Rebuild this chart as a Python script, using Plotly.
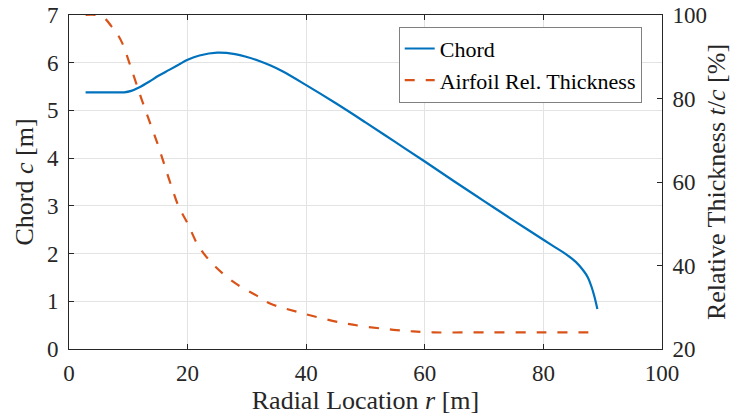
import plotly.graph_objects as go

# Chord distribution
r_chord = [2.8, 5.0, 7.0, 9.3, 10.5, 11.8, 13.5, 15.0, 16.9, 18.5, 20.0, 22.0, 25.0, 28.0, 30.0,
           32.2, 34.0, 36.0, 40.0, 45.0, 50.0, 55.0, 60.0, 65.0, 70.0, 75.0, 80.0, 82.0,
           83.9, 85.5, 86.7, 87.5, 88.1, 88.6, 89.1]
chord = [5.38, 5.38, 5.38, 5.38, 5.41, 5.48, 5.60, 5.72, 5.85, 5.96, 6.06, 6.15, 6.21, 6.18, 6.12,
         6.03, 5.94, 5.82, 5.53, 5.15, 4.75, 4.34, 3.93, 3.51, 3.10, 2.69, 2.29, 2.13,
         1.98, 1.82, 1.65, 1.50, 1.31, 1.10, 0.84]

# Airfoil relative thickness distribution
r_thick = [2.8, 4.5, 6.0, 7.1, 8.0, 9.0, 10.4, 12.1, 13.5, 14.9, 16.0, 17.1, 18.5, 20.0, 21.9,
           24.7, 28.1, 31.5, 33.9, 39.0, 46.3, 54.7, 61.4, 70.0, 80.0, 89.1]
thick = [100.0, 100.0, 99.2, 97.4, 95.8, 93.2, 87.6, 80.4, 74.8, 69.3, 64.5, 59.7, 54.1, 50.1, 44.5,
         39.7, 35.7, 32.9, 30.9, 28.7, 26.2, 24.6, 24.0, 24.0, 24.0, 24.0]

x_ticks = [0, 20, 40, 60, 80, 100]
y_ticks = [0, 1, 2, 3, 4, 5, 6, 7]
y2_ticks = [20, 40, 60, 80, 100]

FONT = "Liberation Serif, Times New Roman, serif"
AX = "#262626"
GRID = "#e3e3e3"
TICK = 23
TITLE = 26

fig = go.Figure()
fig.add_trace(go.Scatter(x=r_chord, y=chord, mode="lines", name="Chord",
                         line=dict(color="#0072BD", width=2.2, shape="spline", smoothing=1.0)))
fig.add_trace(go.Scatter(x=r_thick, y=thick, mode="lines", name="Airfoil Rel. Thickness",
                         yaxis="y2",
                         line=dict(color="#D95319", width=2.2, dash="10px,11px", shape="spline", smoothing=1.0)))

fig.update_layout(
    width=741, height=419,
    margin=dict(l=69, r=79, t=15, b=70),
    paper_bgcolor="white", plot_bgcolor="white",
    font=dict(family=FONT, color=AX, size=20),
    showlegend=True,
    legend=dict(x=0.556, y=0.965, xanchor="left", yanchor="top",
                bgcolor="white", bordercolor="#808080", borderwidth=1,
                font=dict(family=FONT, size=22, color="black"),
                tracegroupgap=0, itemwidth=30),
    xaxis=dict(range=[0, 100], tickvals=x_ticks, ticks="inside", ticklen=5,
               tickcolor=AX, showline=True, linecolor=AX, linewidth=1, mirror="ticks",
               showgrid=True, gridcolor=GRID, zeroline=False, automargin=False,
               ticklabelstandoff=3,
               tickfont=dict(family=FONT, size=TICK, color=AX),
               title=dict(text="Radial Location <i>r</i> [m]", font=dict(family=FONT, size=TITLE, color=AX),
                          standoff=3)),
    yaxis=dict(range=[0, 7], tickvals=y_ticks, ticks="inside", ticklen=5,
               tickcolor=AX, showline=True, linecolor=AX, linewidth=1, mirror=True,
               showgrid=True, gridcolor=GRID, zeroline=False, automargin=False,
               ticklabelstandoff=5,
               tickfont=dict(family=FONT, size=TICK, color=AX),
               title=dict(text="Chord <i>c</i> [m]", font=dict(family=FONT, size=TITLE, color=AX),
                          standoff=5)),
    yaxis2=dict(range=[20, 100], tickvals=y2_ticks, ticks="inside", ticklen=5,
                tickcolor=AX, overlaying="y", side="right", showline=True, linecolor=AX,
                linewidth=1, showgrid=False, zeroline=False, automargin=False,
                ticklabelstandoff=5,
                tickfont=dict(family=FONT, size=TICK, color=AX),
                title=dict(text="Relative Thickness <i>t</i>/<i>c</i> [%]",
                           font=dict(family=FONT, size=TITLE, color=AX), standoff=0)),
)

fig.write_html("out.html")
